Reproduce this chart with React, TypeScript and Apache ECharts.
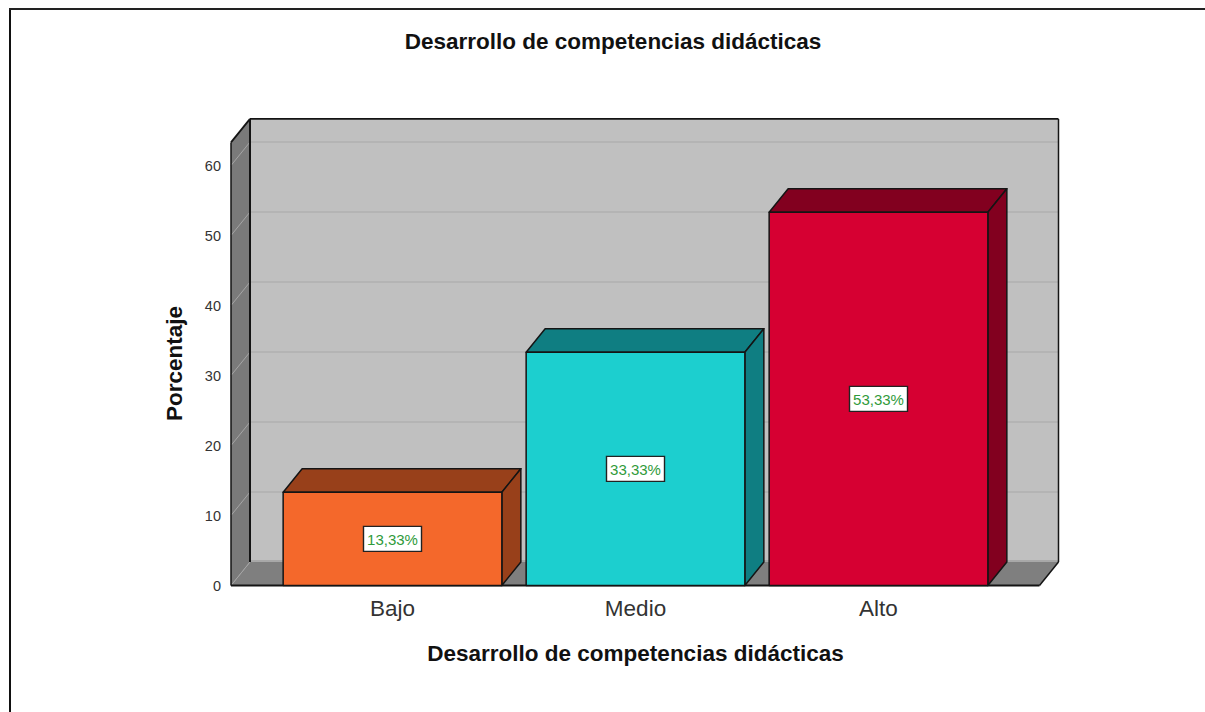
import React, { useEffect, useRef } from "react";
import * as echarts from "echarts";

const titleText = "Desarrollo de competencias didácticas";
const yName = "Porcentaje";
const categories = ["Bajo", "Medio", "Alto"];
const percentages = [13.33, 33.33, 53.33];
const percentLabels = ["13,33%", "33,33%", "53,33%"];
const yTicks = [0, 10, 20, 30, 40, 50, 60];
const frontColors = ["#f4682b", "#1ccfcf", "#d60032"];
const sideColors = ["#98401a", "#0f7e82", "#82001f"];
const wallTopValue = 63.3;

const FONT = "'Liberation Sans', Arial, sans-serif";
const DX = 19;
const DY = -23.5;
const PAD = 40;
const EDGE = "#141414";

const poly = (points: number[][], fill: string, stroke: string | null, lineWidth = 1.5) => ({
  type: "polygon",
  shape: { points },
  style: { fill, stroke: stroke ?? "none", lineWidth, lineJoin: "round" },
  silent: true,
});
const seg = (a: number[], b: number[], stroke: string, lineWidth = 1.5) => ({
  type: "line",
  shape: { x1: a[0], y1: a[1], x2: b[0], y2: b[1] },
  style: { stroke, lineWidth },
  silent: true,
});

const renderWalls = (params: any, api: any) => {
  const cs = params.coordSys;
  const x0 = cs.x - PAD;
  const x1 = cs.x + cs.width + PAD - 0.5;
  const y0 = api.coord([0, 0])[1];
  const yTop = api.coord([0, wallTopValue])[1];
  const children: any[] = [
    poly([[x0 + DX, y0 + DY], [x1 + DX, y0 + DY], [x1 + DX, yTop + DY], [x0 + DX, yTop + DY]], "#c0c0c0", null),
    poly([[x0, y0], [x0 + DX, y0 + DY], [x0 + DX, yTop + DY], [x0, yTop]], "#7a7a7a", null),
    poly([[x0, y0], [x1, y0], [x1 + DX, y0 + DY], [x0 + DX, y0 + DY]], "#7f7f7f", null),
  ];
  yTicks.forEach((t) => {
    const y = api.coord([0, t])[1];
    children.push(seg([x0, y], [x0 + DX, y + DY], "#a6a6a6", 1));
    if (t > 0) children.push(seg([x0 + DX, y + DY], [x1 + DX, y + DY], "#b0b0b0", 1.5));
  });
  children.push(seg([x0 + DX, y0 + DY - 1], [x1 + DX, y0 + DY - 1], "#a0a0a0", 1.5));
  children.push(seg([x0, y0], [x0, yTop], EDGE, 1.5));
  children.push(seg([x0, yTop], [x0 + DX, yTop + DY], EDGE, 1.8));
  children.push(seg([x0 + DX, yTop + DY], [x1 + DX, yTop + DY], EDGE, 1.8));
  children.push(seg([x0 + DX, yTop + DY], [x0 + DX, y0 + DY], EDGE, 2));
  children.push(seg([x1 + DX, yTop + DY], [x1 + DX, y0 + DY], EDGE, 1.5));
  children.push(seg([x1 + DX, y0 + DY], [x1, y0], EDGE, 1.5));
  children.push(seg([x0, y0], [x1, y0], EDGE, 1.8));
  return { type: "group", children };
};

const renderBar = (params: any, api: any) => {
  const i = api.value(0);
  const v = api.value(1);
  const [cx, top] = api.coord([i, v]);
  const base = api.coord([i, 0])[1];
  const half = api.size([1, 0])[0] * 0.45;
  const l = cx - half;
  const r = cx + half;
  const midY = (top + base) / 2;
  return {
    type: "group",
    children: [
      poly([[l, top], [r, top], [r + DX, top + DY], [l + DX, top + DY]], sideColors[i], EDGE),
      poly([[r, top], [r + DX, top + DY], [r + DX, base + DY], [r, base]], sideColors[i], EDGE),
      poly([[l, top], [r, top], [r, base], [l, base]], frontColors[i], EDGE),
      {
        type: "rect",
        shape: { x: cx - 29, y: midY - 12.5, width: 58, height: 25 },
        style: { fill: "#ffffff", stroke: "#222222", lineWidth: 1.4 },
        silent: true,
      },
      {
        type: "text",
        style: {
          text: percentLabels[i],
          x: cx,
          y: midY + 0.5,
          align: "center",
          verticalAlign: "middle",
          fill: "#2f9a3a",
          font: `15px ${FONT}`,
        },
        silent: true,
      },
    ],
  };
};

export default function App() {
  const ref = useRef<HTMLDivElement>(null);
  useEffect(() => {
    if (!ref.current) return;
    const chart = echarts.init(ref.current, undefined, { renderer: "svg" });
    chart.setOption({
      animation: false,
      backgroundColor: "#ffffff",
      title: {
        text: titleText,
        left: 608,
        top: 25,
        textAlign: "center",
        textStyle: { fontFamily: FONT, fontSize: 22.5, fontWeight: "bold", color: "#111111" },
      },
      grid: { left: 271, top: 165.5, width: 729, height: 420 },
      xAxis: {
        type: "category",
        data: categories,
        name: titleText,
        nameLocation: "middle",
        nameGap: 56,
        nameTextStyle: { fontFamily: FONT, fontSize: 22.5, fontWeight: "bold", color: "#111111" },
        axisLine: { show: false },
        axisTick: { show: false },
        axisLabel: { fontFamily: FONT, fontSize: 22.5, color: "#333333", margin: 11.5 },
      },
      yAxis: {
        type: "value",
        min: 0,
        max: 60,
        interval: 10,
        offset: PAD,
        name: yName,
        nameLocation: "middle",
        nameGap: 45,
        nameTextStyle: {
          fontFamily: FONT,
          fontSize: 22.5,
          fontWeight: "bold",
          color: "#111111",
          padding: [0, 0, 0, 24],
        },
        axisLine: { show: false },
        axisTick: { show: false },
        splitLine: { show: false },
        axisLabel: { fontFamily: FONT, fontSize: 14.5, color: "#333333", margin: 10 },
      },
      graphic: [
        { type: "rect", silent: true, shape: { x: 9, y: 8, width: 2, height: 704 }, style: { fill: "#111111" } },
        { type: "rect", silent: true, shape: { x: 9, y: 8, width: 1196, height: 2 }, style: { fill: "#222222" } },
      ],
      series: [
        {
          type: "custom",
          name: "walls",
          renderItem: renderWalls,
          data: [[0, 0]],
          silent: true,
          z: 1,
        },
        {
          type: "custom",
          name: yName,
          renderItem: renderBar,
          data: percentages.map((v, i) => [i, v]),
          encode: { x: 0, y: 1 },
          silent: true,
          z: 2,
        },
      ],
    });
    return () => chart.dispose();
  }, []);
  return (
    <div
      ref={ref}
      style={{ position: "absolute", left: 0, top: 0, width: 1205, height: 712, overflow: "hidden" }}
    />
  );
}
